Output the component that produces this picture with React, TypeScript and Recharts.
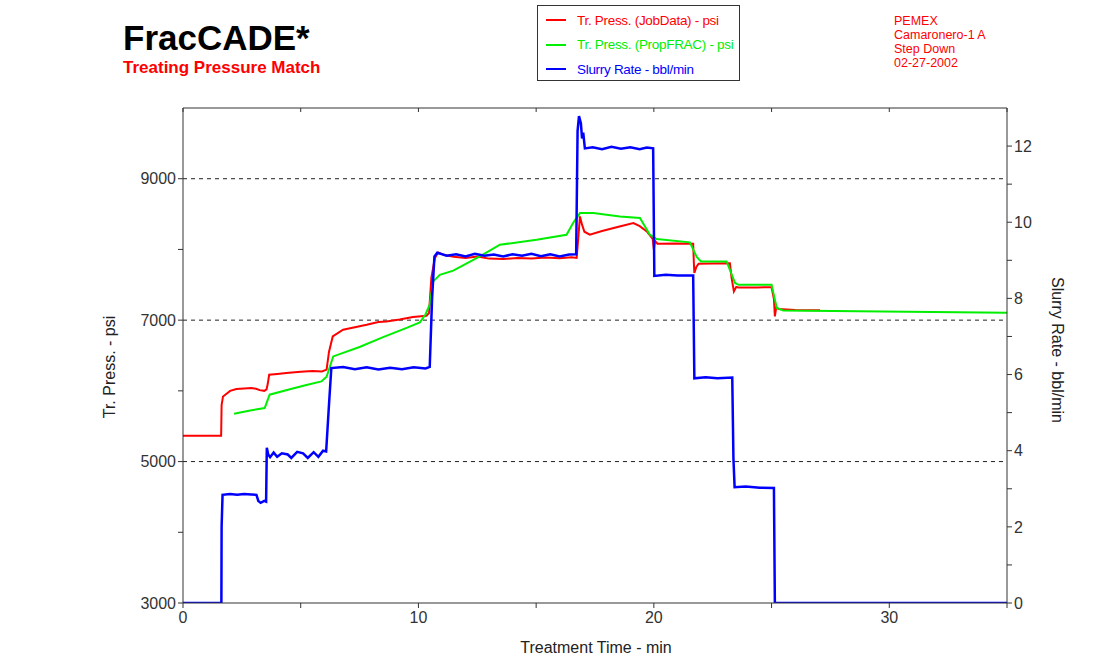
import React from "react";
import { LineChart, Line, XAxis, YAxis, ReferenceLine } from "recharts";

// ---- data (t = minutes) ----
const slurryRate = [
  [0, 0], [1.63, 0], [1.64, 2.0], [1.68, 2.84], [2.0, 2.86], [2.3, 2.84], [2.6, 2.86], [2.9, 2.85], [3.12, 2.84],
  [3.2, 2.68], [3.3, 2.63], [3.45, 2.68], [3.53, 2.66], [3.56, 4.08], [3.62, 3.9], [3.7, 3.83], [3.85, 3.95],
  [4.0, 3.84], [4.2, 3.93], [4.45, 3.9], [4.6, 3.81], [4.85, 3.97], [5.1, 3.93], [5.3, 3.81], [5.55, 3.96],
  [5.75, 3.84], [5.95, 4.0], [6.08, 3.98], [6.2, 5.2], [6.3, 6.17], [6.8, 6.2], [7.3, 6.14], [7.8, 6.19],
  [8.3, 6.13], [8.8, 6.18], [9.3, 6.14], [9.8, 6.19], [10.3, 6.16], [10.48, 6.2], [10.58, 8.0], [10.68, 9.1],
  [10.8, 9.2], [11.2, 9.12], [11.6, 9.16], [12.0, 9.1], [12.4, 9.17], [12.8, 9.12], [13.2, 9.15], [13.6, 9.1],
  [14.0, 9.16], [14.4, 9.12], [14.8, 9.17], [15.2, 9.11], [15.6, 9.16], [16.0, 9.1], [16.4, 9.15], [16.7, 9.16],
  [16.76, 12.4], [16.82, 12.79], [16.9, 12.6], [16.95, 12.2], [17.0, 12.35], [17.07, 11.94], [17.4, 11.97],
  [17.8, 11.92], [18.2, 11.98], [18.6, 11.93], [19.0, 11.97], [19.4, 11.92], [19.7, 11.96], [19.97, 11.94],
  [20.02, 8.59], [20.5, 8.62], [21.0, 8.6], [21.67, 8.6], [21.72, 5.9], [22.2, 5.93], [22.7, 5.9], [23.33, 5.92],
  [23.38, 3.8], [23.43, 3.04], [23.9, 3.06], [24.5, 3.03], [25.1, 3.02], [25.14, 0], [35, 0],
].map(([t, v]) => ({ t, v }));

const pressJob = [
  [0, 5366], [1.62, 5366], [1.64, 5800], [1.7, 5921], [1.85, 5960], [2.0, 6000], [2.27, 6026], [2.6, 6035],
  [2.9, 6040], [3.1, 6030], [3.26, 6010], [3.45, 6000], [3.55, 6020], [3.6, 6100], [3.66, 6228], [4.0, 6240],
  [4.5, 6255], [5.0, 6270], [5.5, 6280], [5.9, 6275], [6.1, 6300], [6.2, 6550], [6.36, 6770], [6.8, 6865],
  [7.3, 6900], [7.8, 6935], [8.3, 6975], [8.64, 6982], [9.2, 7010], [9.77, 7044], [10.34, 7062], [10.45, 7100],
  [10.55, 7600], [10.7, 7880], [10.84, 7958], [11.1, 7920], [11.5, 7895], [12.0, 7880], [12.5, 7900],
  [13.0, 7870], [13.6, 7864], [14.2, 7880], [14.8, 7870], [15.4, 7885], [16.0, 7875], [16.5, 7890],
  [16.72, 7880], [16.8, 8200], [16.86, 8467], [16.95, 8350], [17.05, 8250], [17.28, 8208], [17.8, 8260],
  [18.5, 8320], [19.13, 8373], [19.4, 8330], [19.7, 8255], [19.95, 8150], [20.0, 8000], [20.05, 8120],
  [20.15, 8081], [21.0, 8085], [21.67, 8080], [21.7, 7800], [21.72, 7666], [21.8, 7750], [21.9, 7798],
  [22.5, 7800], [23.23, 7805], [23.3, 7600], [23.4, 7406], [23.5, 7470], [23.6, 7463], [24.4, 7463],
  [25.0, 7465], [25.1, 7300], [25.14, 7053], [25.2, 7180], [25.3, 7157], [26.0, 7145], [27.06, 7140],
].map(([t, v]) => ({ t, v }));

const pressProp = [
  [2.17, 5677], [2.8, 5720], [3.47, 5757], [3.68, 5946], [4.5, 6020], [5.2, 6080], [5.88, 6134], [6.1, 6200],
  [6.38, 6487], [7.5, 6620], [8.5, 6760], [9.5, 6890], [10.06, 6968], [10.3, 7080], [10.48, 7218],
  [10.63, 7548], [10.91, 7640], [11.48, 7700], [12.61, 7901], [13.46, 8066], [15.02, 8137], [16.29, 8208],
  [16.57, 8373], [16.86, 8514], [17.43, 8514], [18.56, 8467], [19.41, 8444], [19.83, 8208], [20.12, 8147],
  [21.53, 8100], [21.82, 7893], [22.0, 7830], [23.09, 7830], [23.45, 7525], [23.6, 7500], [25.0, 7500],
  [25.22, 7171], [25.5, 7137], [35, 7105],
].map(([t, v]) => ({ t, v }));

const xTicks = [0, 5, 10, 15, 20, 25, 30, 35];
const pressTicks = [3000, 4000, 5000, 6000, 7000, 8000, 9000];
const rateTicks = [0, 1, 2, 3, 4, 5, 6, 7, 8, 9, 10, 11, 12];
const gridPress = [5000, 7000, 9000];

const FONT = "Arial, 'Liberation Sans', sans-serif";
const tickStyle = { fontSize: 16, fill: "#333", fontFamily: FONT };

export default function App() {
  return (
    <div style={{ position: "absolute", left: 0, top: 0, width: 1117, height: 661, background: "#fff", fontFamily: FONT }}>
      <LineChart width={1117} height={661} data={pressJob} margin={{ top: 108, right: 30, bottom: 28, left: 103 }}>
        <XAxis
          xAxisId="bottom"
          dataKey="t"
          type="number"
          domain={[0, 35]}
          ticks={xTicks}
          tickFormatter={(v: number) => (v % 10 === 0 ? String(v) : "")}
          tick={tickStyle}
          tickSize={5}
          tickMargin={4}
          height={30}
          stroke="#333"
          allowDataOverflow
        />
        <XAxis
          xAxisId="top"
          orientation="top"
          dataKey="t"
          type="number"
          domain={[0, 35]}
          ticks={xTicks}
          tickFormatter={() => ""}
          tickSize={4}
          mirror
          height={30}
          stroke="#333"
        />
        <YAxis
          yAxisId="left"
          type="number"
          domain={[3000, 10000]}
          ticks={pressTicks}
          tickFormatter={(v: number) => (v % 2000 === 1000 ? String(v) : "")}
          tick={tickStyle}
          tickSize={5}
          width={80}
          stroke="#333"
          allowDataOverflow
        />
        <YAxis
          yAxisId="right"
          orientation="right"
          type="number"
          domain={[0, 13]}
          ticks={rateTicks}
          tickFormatter={(v: number) => (v % 2 === 0 ? String(v) : "")}
          tick={tickStyle}
          tickSize={5}
          width={80}
          stroke="#333"
          allowDataOverflow
        />
        {gridPress.map((g) => (
          <ReferenceLine key={g} yAxisId="left" xAxisId="bottom" y={g} stroke="#222" strokeDasharray="4 4" strokeWidth={1} />
        ))}
        <Line xAxisId="bottom" yAxisId="left" data={pressJob} dataKey="v" stroke="#ff0000" strokeWidth={2} dot={false} isAnimationActive={false} type="linear" />
        <Line xAxisId="bottom" yAxisId="left" data={pressProp} dataKey="v" stroke="#00ee00" strokeWidth={2} dot={false} isAnimationActive={false} type="linear" />
        <Line xAxisId="bottom" yAxisId="right" data={slurryRate} dataKey="v" stroke="#0000ff" strokeWidth={2.5} dot={false} isAnimationActive={false} type="linear" />
      </LineChart>

      {/* Title */}
      <div style={{ position: "absolute", left: 123, top: 18, fontSize: 35, fontWeight: "bold", color: "#000", lineHeight: "40px", whiteSpace: "nowrap" }}>
        FracCADE*
      </div>
      <div style={{ position: "absolute", left: 123, top: 58, fontSize: 17, fontWeight: "bold", color: "#ff0000", lineHeight: "20px", whiteSpace: "nowrap" }}>
        Treating Pressure Match
      </div>

      {/* Legend */}
      <div style={{ position: "absolute", left: 537, top: 5, width: 203, height: 76, border: "1px solid #333", boxSizing: "border-box" }}>
        {[
          { label: "Tr. Press. (JobData) - psi", color: "#ff0000" },
          { label: "Tr. Press. (PropFRAC) - psi", color: "#00ee00" },
          { label: "Slurry Rate - bbl/min", color: "#0000ff" },
        ].map((it, i) => (
          <div key={i} style={{ position: "absolute", left: 8, top: 6 + i * 24.5, height: 16, display: "flex", alignItems: "center", whiteSpace: "nowrap" }}>
            <div style={{ width: 20, height: 2, background: it.color }} />
            <span style={{ marginLeft: 11, fontSize: 13.5, letterSpacing: -0.3, color: it.color }}>{it.label}</span>
          </div>
        ))}
      </div>

      {/* Annotation */}
      <div style={{ position: "absolute", left: 894, top: 14, fontSize: 12.5, lineHeight: "14px", color: "#ff0000", whiteSpace: "nowrap" }}>
        <div>PEMEX</div>
        <div>Camaronero-1 A</div>
        <div>Step Down</div>
        <div>02-27-2002</div>
      </div>

      {/* Axis titles */}
      <div style={{ position: "absolute", left: 596, top: 648, transform: "translate(-50%, -50%)", fontSize: 16, color: "#222", whiteSpace: "nowrap" }}>
        Treatment Time - min
      </div>
      <div style={{ position: "absolute", left: 110, top: 367, transform: "translate(-50%, -50%) rotate(-90deg)", fontSize: 16, color: "#222", whiteSpace: "nowrap" }}>
        Tr. Press. - psi
      </div>
      <div style={{ position: "absolute", left: 1057, top: 350, transform: "translate(-50%, -50%) rotate(90deg)", fontSize: 16, color: "#222", whiteSpace: "nowrap" }}>
        Slurry Rate - bbl/min
      </div>
    </div>
  );
}
